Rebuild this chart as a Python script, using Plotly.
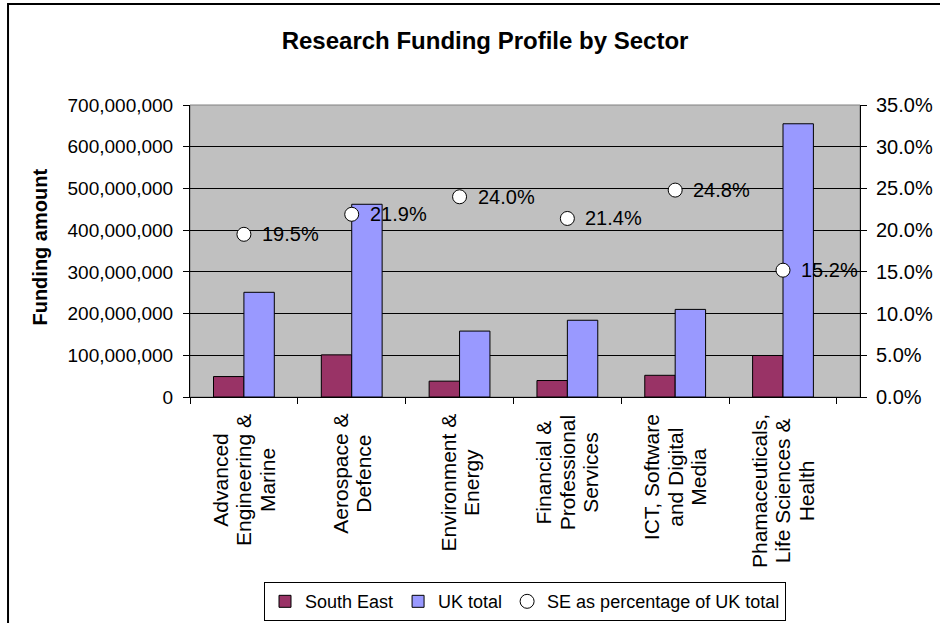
import plotly.graph_objects as go

# Sectors and funding figures
sector_lines = [
    ["Advanced", "Engineering &", "Marine"],
    ["Aerospace &", "Defence"],
    ["Environment &", "Energy"],
    ["Financial &", "Professional", "Services"],
    ["ICT, Software", "and Digital", "Media"],
    ["Phamaceuticals,", "Life Sciences &", "Health"],
]
sector_keys = ["AEM", "AD", "EE", "FPS", "ICT", "PLH"]
south_east = [49_000_000, 101_000_000, 38_000_000, 39_500_000, 52_000_000, 99_500_000]
uk_total = [251_000_000, 462_000_000, 158_000_000, 184_000_000, 210_000_000, 655_000_000]
se_share = [0.195, 0.219, 0.240, 0.214, 0.248, 0.152]

FONT = "Liberation Sans, Arial, sans-serif"

fig = go.Figure()
fig.add_trace(go.Bar(
    x=sector_keys, y=south_east, name="South East",
    marker=dict(color="#993366", line=dict(color="black", width=1)),
))
fig.add_trace(go.Bar(
    x=sector_keys, y=uk_total, name="UK total",
    marker=dict(color="#9999FF", line=dict(color="black", width=1)),
))
fig.add_trace(go.Scatter(
    x=sector_keys, y=se_share, name="SE as percentage of UK total",
    mode="markers", yaxis="y2",
    marker=dict(symbol="circle", size=14, color="white",
                line=dict(color="black", width=1)),
))

annotations = []
# percentage labels beside each marker
for k, v in zip(sector_keys, se_share):
    annotations.append(dict(
        x=k, y=v, xref="x", yref="y2", text=f"{v*100:.1f}%",
        showarrow=False, xanchor="left", yanchor="middle", xshift=16,
        font=dict(family=FONT, size=20, color="black"),
    ))
# rotated, centred category labels under the axis
for k, lines in zip(sector_keys, sector_lines):
    text = "<br>".join(f'<span style="font-size:21px">{ln}</span>' for ln in lines)
    annotations.append(dict(
        x=k, y=0, xref="x", yref="paper", text=text, textangle=-90,
        showarrow=False, xanchor="center", yanchor="top", yshift=-15,
        align="center", font=dict(family=FONT, size=18, color="black"),
    ))
# y axis title
annotations.append(dict(
    x=-0.224, y=0.515, xref="paper", yref="paper", text="<b>Funding amount</b>",
    textangle=-90, showarrow=False, xanchor="center", yanchor="middle",
    font=dict(family=FONT, size=20, color="black"),
))

fig.update_layout(
    width=940, height=623,
    margin=dict(l=190, r=80, t=105, b=226, autoexpand=False),
    paper_bgcolor="white", plot_bgcolor="#C0C0C0",
    font=dict(family=FONT, size=19, color="black"),
    title=dict(text="<b>Research Funding Profile by Sector</b>",
               x=0.516, xanchor="center", y=0.935, yanchor="middle",
               font=dict(family=FONT, size=24, color="black")),
    barmode="group", bargap=0.436, bargroupgap=0,
    showlegend=True,
    legend=dict(orientation="h", x=0.5, xanchor="center", y=-0.634, yanchor="top",
                bordercolor="black", borderwidth=1, bgcolor="white",
                font=dict(family=FONT, size=18), itemwidth=30,
                tracegroupgap=0),
    xaxis=dict(showticklabels=False, ticks="outside", ticklen=6, tickcolor="black",
               tickson="boundaries", showline=True, linecolor="black", linewidth=1,
               showgrid=False, zeroline=False),
    yaxis=dict(range=[0, 700_000_000], dtick=100_000_000, tickformat=",d",
               ticks="outside", ticklen=6, tickcolor="black", ticklabelstandoff=6,
               showline=True, linecolor="black", linewidth=1,
               showgrid=True, gridcolor="black", gridwidth=1, zeroline=False,
               tickfont=dict(family=FONT, size=19)),
    yaxis2=dict(range=[0, 0.35], dtick=0.05, tickformat=".1%", overlaying="y",
                side="right", ticks="outside", ticklen=6, tickcolor="black",
                ticklabelstandoff=5,
                showline=True, linecolor="black", linewidth=1,
                showgrid=False, zeroline=False,
                tickfont=dict(family=FONT, size=20)),
    annotations=annotations,
    shapes=[
        # plot area frame
        dict(type="rect", xref="paper", yref="paper", x0=0, x1=1, y0=0, y1=1,
             line=dict(color="#808080", width=1), layer="below"),
        # chart border
        dict(type="rect", xref="paper", yref="paper", x0=-0.2716, x1=1.2,
             y0=-1.0, y1=1.3459, line=dict(color="black", width=2)),
    ],
)

fig.write_html("out.html")
